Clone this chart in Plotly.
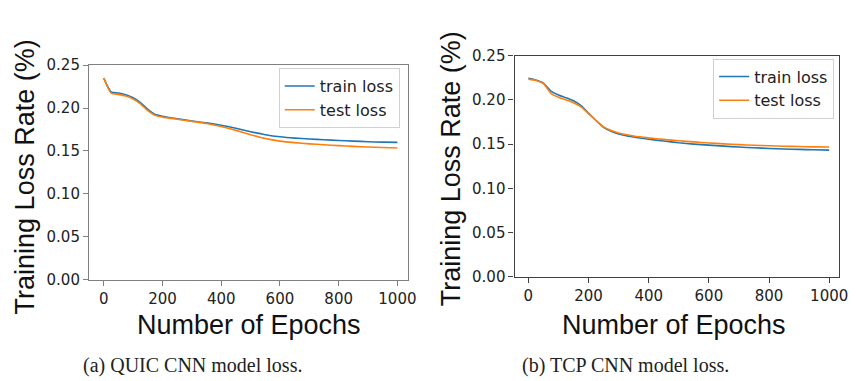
import plotly.graph_objects as go

epochs = [0, 25, 50, 75, 100, 125, 150, 175, 200, 250, 300, 350, 400, 450, 500,
          550, 600, 650, 700, 750, 800, 850, 900, 950, 1000]

quic_train = [0.2350, 0.2190, 0.2175, 0.2155, 0.2120, 0.2065, 0.1985, 0.1925, 0.1905,
              0.1875, 0.1850, 0.1828, 0.1800, 0.1765, 0.1725, 0.1690, 0.1665, 0.1650,
              0.1640, 0.1630, 0.1622, 0.1615, 0.1608, 0.1603, 0.1600]
quic_test = [0.2350, 0.2175, 0.2160, 0.2140, 0.2105, 0.2050, 0.1970, 0.1915, 0.1895,
             0.1870, 0.1845, 0.1820, 0.1785, 0.1740, 0.1690, 0.1645, 0.1615, 0.1597,
             0.1583, 0.1572, 0.1562, 0.1553, 0.1546, 0.1540, 0.1535]

tcp_train = [0.2245, 0.2225, 0.2190, 0.2100, 0.2055, 0.2025, 0.1990, 0.1935, 0.1850,
             0.1690, 0.1615, 0.1580, 0.1555, 0.1535, 0.1515, 0.1500, 0.1488, 0.1477,
             0.1467, 0.1458, 0.1451, 0.1445, 0.1440, 0.1436, 0.1432]
tcp_test = [0.2235, 0.2220, 0.2185, 0.2075, 0.2030, 0.2000, 0.1968, 0.1920, 0.1845,
            0.1695, 0.1625, 0.1592, 0.1570, 0.1553, 0.1537, 0.1525, 0.1513, 0.1503,
            0.1494, 0.1487, 0.1481, 0.1476, 0.1472, 0.1469, 0.1467]

series_names = ["train loss", "test loss"]
colors = ["#1f77b4", "#ff7f0e"]
x_title = "Number of Epochs"
y_title = "Training Loss Rate (%)"
captions = ["(a) QUIC CNN model loss.", "(b) TCP CNN model loss."]
y_ticks = [0.00, 0.05, 0.10, 0.15, 0.20, 0.25]
x_ticks = [0, 200, 400, 600, 800, 1000]

W, H = 858, 381
fig = go.Figure()

for i, ys in enumerate([quic_train, quic_test]):
    fig.add_trace(go.Scatter(x=epochs, y=ys, mode="lines", name=series_names[i],
                             line=dict(color=colors[i], width=1.6, shape="spline", smoothing=0.6),
                             xaxis="x", yaxis="y", legend="legend"))
for i, ys in enumerate([tcp_train, tcp_test]):
    fig.add_trace(go.Scatter(x=epochs, y=ys, mode="lines", name=series_names[i],
                             line=dict(color=colors[i], width=1.6, shape="spline", smoothing=0.6),
                             xaxis="x2", yaxis="y2", legend="legend2"))

tickfont = dict(family="DejaVu Sans", size=15, color="#222222")

def xax(domain, rng, color):
    return dict(domain=domain, range=rng, tickvals=x_ticks, ticks="outside", ticklen=5,
                tickcolor=color, showline=True, linecolor=color, linewidth=1.2, mirror=True,
                showgrid=False, zeroline=False, tickfont=tickfont)

def yax(domain, color, anchor):
    return dict(domain=domain, range=[0, 0.25], tickvals=y_ticks, tickformat=".2f",
                ticks="outside", ticklen=5, tickcolor=color, showline=True, linecolor=color,
                linewidth=1.2, mirror=True, showgrid=False, zeroline=False, tickfont=tickfont,
                anchor=anchor)

legend_font = dict(family="DejaVu Sans", size=16, color="#222222")

fig.update_layout(
    width=W, height=H, margin=dict(l=0, r=0, t=0, b=0),
    paper_bgcolor="white", plot_bgcolor="white",
    xaxis=dict(**xax([90 / W, 412 / W], [-50, 1035], "#808080"), anchor="y"),
    yaxis=yax([1 - 284 / H, 1 - 59 / H], "#808080", "x"),
    xaxis2=dict(**xax([520 / W, 848 / W], [-46, 1033], "#404040"), anchor="y2"),
    yaxis2=yax([1 - 281 / H, 1 - 49 / H], "#404040", "x2"),
    legend=dict(x=404 / W, y=1 - 62 / H, xanchor="right", yanchor="top",
                bgcolor="white", bordercolor="#d0d0d0", borderwidth=1,
                font=legend_font, tracegroupgap=0),
    legend2=dict(x=843 / W, y=1 - 52 / H, xanchor="right", yanchor="top",
                 bgcolor="white", bordercolor="#d0d0d0", borderwidth=1,
                 font=legend_font, tracegroupgap=0),
    showlegend=True,
)

title_font = dict(family="Liberation Sans", size=27, color="#111111")
annotations = [
    dict(text=x_title, x=252 / W, y=1 - 332 / H, showarrow=False, font=title_font,
         xanchor="center", yanchor="middle"),
    dict(text=x_title, x=681 / W, y=1 - 332 / H, showarrow=False, font=title_font,
         xanchor="center", yanchor="middle"),
    dict(text=y_title, x=25 / W, y=1 - 176 / H, showarrow=False, font=title_font,
         textangle=-90, xanchor="center", yanchor="middle"),
    dict(text=y_title, x=456 / W, y=1 - 168 / H, showarrow=False, font=title_font,
         textangle=-90, xanchor="center", yanchor="middle"),
    dict(text=captions[0], x=195 / W, y=1 - 374 / H, showarrow=False,
         font=dict(family="Liberation Serif", size=20, color="#222222"),
         xanchor="center", yanchor="middle"),
    dict(text=captions[1], x=632 / W, y=1 - 374 / H, showarrow=False,
         font=dict(family="Liberation Serif", size=20, color="#222222"),
         xanchor="center", yanchor="middle"),
]
for a in annotations:
    a.update(xref="paper", yref="paper")
fig.update_layout(annotations=annotations)

fig.write_html("out.html")
